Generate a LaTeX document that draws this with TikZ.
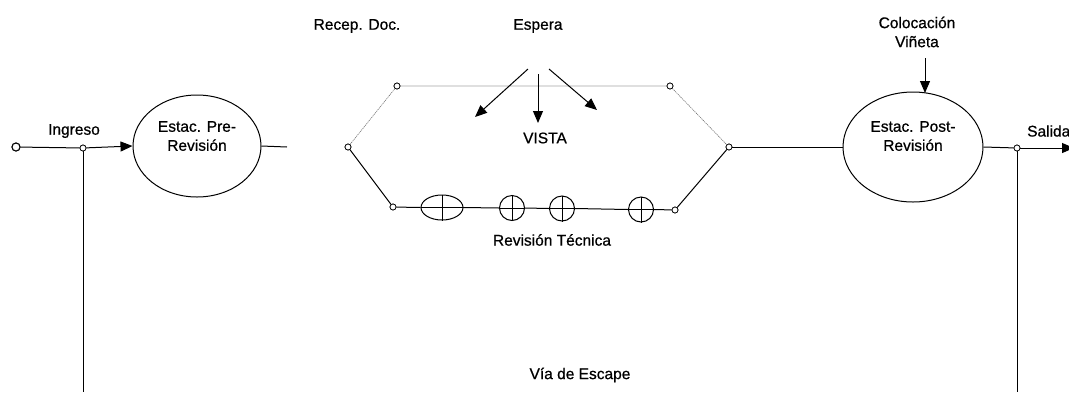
\documentclass[tikz,border=0pt]{standalone}
\usepackage{fontspec}
\setmainfont[FakeBold=0.7]{Liberation Sans}
\usetikzlibrary{arrows.meta,shapes.geometric}
\begin{document}
\begin{tikzpicture}[x=1pt,y=-1pt,
  line/.style={draw=black,line width=1pt},
  dotline/.style={draw=black!55,line width=0.6pt,dash pattern=on 1.2pt off 0.8pt},
  arr/.style={line,-{Triangle[length=12pt,width=10pt]}},
  joint/.style={circle,draw=black,fill=white,line width=0.7pt,inner sep=0pt,minimum size=6pt},
  station/.style={ellipse,draw=black,line width=1pt,inner sep=0pt},
  gauge/.style={ellipse,draw=black,line width=1pt,inner sep=0pt,fill=white},
  lbl/.style={font=\fontsize{15.5}{19}\selectfont,inner sep=0pt,align=center}]
\useasboundingbox (0,0) rectangle (1069,392);
% stations
\node[station,minimum width=128pt,minimum height=102pt] (pre) at (197,146) {};
\node[station,minimum width=140pt,minimum height=110pt] (post) at (913,147) {};
\node[lbl] (pretxt) at (197,136) {Estac. Pre-\\Revisión};
\node[lbl] (posttxt) at (913,136) {Estac. Post-\\Revisión};
% joints
\node[joint,minimum size=8pt,line width=1pt] (start) at (16,147) {};
\node[joint] (jin) at (83,148) {};
\node[joint] (hl) at (348,147) {};
\node[joint] (htl) at (397,86) {};
\node[joint] (htr) at (670,86) {};
\node[joint] (hr) at (729,147) {};
\node[joint] (hbl) at (393,207) {};
\node[joint] (hbr) at (675,210) {};
\node[joint] (jout) at (1017,148) {};
\coordinate (prestub) at (287,147);
\coordinate (inbot) at (83,392);
\coordinate (outbot) at (1017,392);
\coordinate (outend) at (1074,148);
% gauges on bottom line
\node[gauge,minimum width=42pt,minimum height=25pt] (g1) at (442,207.5) {};
\node[gauge,minimum width=25pt,minimum height=25pt] (g2) at (512,208) {};
\node[gauge,minimum width=25pt,minimum height=25pt] (g3) at (562,208.5) {};
\node[gauge,minimum width=25pt,minimum height=25pt] (g4) at (641,209.5) {};
% main line
\draw[line] (start) -- (jin);
\draw[arr] (jin) -- (pre.west);
\draw[line] (pre.east) -- (prestub);
\draw[line] (jin) -- (inbot);
% hexagon
\draw[dotline] (hl) -- (htl) -- (htr) -- (hr);
\draw[line] (hl) -- (hbl);
\draw[line] (hbl) -- (g1.west);
\draw[line] (g1.east) -- (g2.west);
\draw[line] (g2.east) -- (g3.west);
\draw[line] (g3.east) -- (g4.west);
\draw[line] (g4.east) -- (hbr);
\draw[line] (hbr) -- (hr);
\foreach \g in {g1,g2,g3,g4}{
  \draw[line,line width=0.8pt] (\g.west) -- (\g.east);
  \draw[line,line width=0.8pt] (\g.north) -- (\g.south);
}
\draw[line] (hr) -- (post.west);
\draw[line] (post.east) -- (jout);
\draw[arr] (jout) -- (outend);
\draw[line] (jout) -- (outbot);
% redraw joints on top
\foreach \j in {start,jin,hl,htl,htr,hr,hbl,hbr,jout}{\node[joint] at (\j) {};}
\node[joint,minimum size=8pt,line width=1pt] at (start) {};
% labels
\node[lbl] (ingreso) at (74,131) {Ingreso};
\node[lbl,anchor=west] (salida) at (1027,131) {Salida};
\node[lbl] (recep) at (357,26) {Recep. Doc.};
\node[lbl] (espera) at (538,26) {Espera};
\node[lbl] (vista) at (545,138) {VISTA};
\node[lbl] (revtec) at (552,240) {Revisión Técnica};
\node[lbl] (coloc) at (917,32) {Colocación\\Viñeta};
\node[lbl] (escape) at (580,375) {Vía de Escape};
% arrows
\coordinate (ea1) at (528,69);
\coordinate (ea2) at (538,74);
\coordinate (ea3) at (549,69);
\coordinate (eb1) at (475,117);
\coordinate (eb2) at (538,123);
\coordinate (eb3) at (597,110);
\draw[arr] (ea1) -- (eb1);
\draw[arr] (ea2) -- (eb2);
\draw[arr] (ea3) -- (eb3);
\coordinate (ctop) at (925,58);
\coordinate (cbot) at (925,93);
\draw[arr] (ctop) -- (cbot);
\end{tikzpicture}
\end{document}
